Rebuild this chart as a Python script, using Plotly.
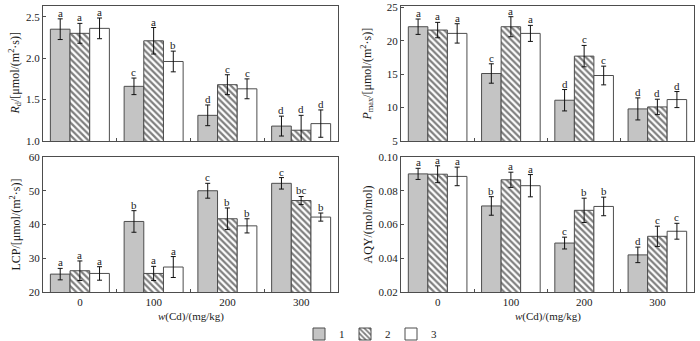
import plotly.graph_objects as go

# Cd dose levels (mg/kg) and treatment groups
doses = ["0", "100", "200", "300"]
treatments = ["1", "2", "3"]

# Dark respiration rate Rd, one row per treatment
rd_mean = [[2.35, 1.66, 1.31, 1.18],
           [2.30, 2.21, 1.68, 1.13],
           [2.36, 1.96, 1.63, 1.21]]
rd_err = [[0.125, 0.10, 0.125, 0.12],
          [0.12, 0.16, 0.12, 0.18],
          [0.125, 0.125, 0.12, 0.165]]
rd_sig = [["a", "c", "d", "d"],
          ["a", "a", "c", "d"],
          ["a", "b", "c", "d"]]

# Maximum net photosynthetic rate Pmax
pmax_mean = [[22.1, 15.1, 11.1, 9.8],
             [21.6, 22.1, 17.7, 10.1],
             [21.1, 21.1, 14.8, 11.2]]
pmax_err = [[1.15, 1.45, 1.6, 1.65],
            [1.15, 1.5, 1.6, 1.15],
            [1.45, 1.2, 1.4, 1.2]]
pmax_sig = [["a", "c", "d", "d"],
            ["a", "a", "c", "d"],
            ["a", "a", "c", "d"]]

# Light compensation point LCP
lcp_mean = [[25.3, 40.9, 50.0, 52.2],
            [26.3, 25.5, 41.7, 47.1],
            [25.5, 27.4, 39.6, 42.2]]
lcp_err = [[1.7, 3.2, 2.2, 1.7],
           [2.9, 2.1, 3.2, 1.2],
           [2.0, 3.1, 2.1, 1.2]]
lcp_sig = [["a", "b", "c", "c"],
           ["a", "a", "b", "bc"],
           ["a", "a", "b", "b"]]

# Apparent quantum yield AQY
aqy_mean = [[0.090, 0.071, 0.049, 0.042],
            [0.0898, 0.0865, 0.0684, 0.053],
            [0.0885, 0.083, 0.0707, 0.056]]
aqy_err = [[0.0033, 0.0055, 0.0035, 0.0046],
           [0.005, 0.0045, 0.0072, 0.006],
           [0.0055, 0.0066, 0.0055, 0.0047]]
aqy_sig = [["a", "b", "c", "d"],
           ["a", "a", "b", "c"],
           ["a", "a", "b", "c"]]

FONT = "Liberation Serif"
TXT = "#1a1a1a"
LINE = "#4d4d4d"
W, H = 700, 341
BARGAP = 0.2
BAR_W = (1 - BARGAP) / len(treatments)

fills = ["#c4c4c4", "white", "white"]
patterns = ["", "\\", ""]

# pixel boxes of the four panels: (left, right, top, bottom)
boxes = [(43, 338, 6, 141), (401, 694, 6, 141),
         (43, 338, 157, 292), (401, 694, 157, 292)]

panels = [
    dict(mean=rd_mean, err=rd_err, sig=rd_sig, yr=[1.0, 2.63],
         ticks=[1.0, 1.5, 2.0, 2.5], fmt=".1f",
         title="<i>R</i><sub>d</sub>/[μmol/(m<sup>2</sup>·s)]"),
    dict(mean=pmax_mean, err=pmax_err, sig=pmax_sig, yr=[5, 25.2],
         ticks=[5, 10, 15, 20, 25], fmt="d",
         title="<i>P</i><sub>max</sub>/[μmol/(m<sup>2</sup>·s)]"),
    dict(mean=lcp_mean, err=lcp_err, sig=lcp_sig, yr=[20, 60],
         ticks=[20, 30, 40, 50, 60], fmt="d",
         title="LCP/[μmol/(m<sup>2</sup>·s)]"),
    dict(mean=aqy_mean, err=aqy_err, sig=aqy_sig, yr=[0.02, 0.10],
         ticks=[0.02, 0.04, 0.06, 0.08, 0.10], fmt=".2f",
         title="AQY/(mol/mol)"),
]

fig = go.Figure()
annotations = []
xpos = list(range(len(doses)))

for p, (panel, box) in enumerate(zip(panels, boxes)):
    sfx = "" if p == 0 else str(p + 1)
    xa, ya = "x" + sfx, "y" + sfx
    for k, name in enumerate(treatments):
        fig.add_trace(go.Bar(
            x=xpos, y=panel["mean"][k], name=name,
            xaxis=xa, yaxis=ya, offsetgroup=str(k),
            legendgroup=name, showlegend=(p == 0),
            marker=dict(color=fills[k], line=dict(color=LINE, width=1),
                        pattern=dict(shape=patterns[k], fgcolor="#000",
                                     bgcolor="white", size=4.5, solidity=0.5)),
            error_y=dict(type="data", array=panel["err"][k], color="#111",
                         thickness=1, width=2.5),
        ))
        # significance letters above each error bar
        for j in xpos:
            annotations.append(dict(
                x=j + (k - 1) * BAR_W, y=panel["mean"][k][j] + panel["err"][k][j],
                xref=xa, yref=ya, text=panel["sig"][k][j], showarrow=False,
                xanchor="center", yanchor="bottom", yshift=-2,
                font=dict(size=11, color=TXT)))

    l, r, t, b = box
    bottom_row = p >= 2
    fig.layout["xaxis" + sfx] = dict(
        domain=[l / W, r / W], anchor=ya, range=[-0.5, len(doses) - 0.5],
        tickmode="array", tickvals=xpos, ticktext=doses, ticks="",
        showticklabels=bottom_row, tickfont=dict(size=11, color=TXT),
        showline=True, mirror=True, linecolor=LINE, linewidth=1,
        showgrid=False, zeroline=False,
        minor=dict(tickmode="array", tickvals=[j + 0.5 for j in xpos[:-1]],
                   ticks="inside", ticklen=3, tickcolor=LINE, showgrid=False),
    )
    fig.layout["yaxis" + sfx] = dict(
        domain=[1 - b / H, 1 - t / H], anchor=xa, range=panel["yr"],
        tickmode="array", tickvals=panel["ticks"], tickformat=panel["fmt"],
        ticks="inside", ticklen=3, tickcolor=LINE,
        tickfont=dict(size=11, color=TXT),
        showline=True, mirror=True, linecolor=LINE, linewidth=1,
        showgrid=False, zeroline=False,
    )
    # y-axis title
    annotations.append(dict(
        x=(15 if l < 300 else 367) / W, y=1 - (t + b) / 2 / H,
        xref="paper", yref="paper", xanchor="center", yanchor="middle",
        text=panel["title"], textangle=-90, showarrow=False,
        font=dict(size=12, color=TXT)))
    # x-axis title under the bottom row
    if bottom_row:
        annotations.append(dict(
            x=(l + r) / 2 / W, y=1 - 316 / H, xref="paper", yref="paper",
            xanchor="center", yanchor="middle",
            text="<i>w</i>(Cd)/(mg/kg)", showarrow=False,
            font=dict(size=11, color=TXT)))

fig.update_layout(
    width=W, height=H,
    margin=dict(l=0, r=0, t=0, b=0, autoexpand=False),
    paper_bgcolor="white", plot_bgcolor="white",
    font=dict(family=FONT, size=11, color=TXT),
    barmode="group", bargap=BARGAP, bargroupgap=0,
    annotations=annotations,
    legend=dict(orientation="h", x=299 / W, y=1 - 334 / H,
                xanchor="left", yanchor="middle", bgcolor="rgba(0,0,0,0)",
                font=dict(size=11, color=TXT), itemwidth=30,
                entrywidth=1, entrywidthmode="pixels"),
)

fig.write_html("out.html")
